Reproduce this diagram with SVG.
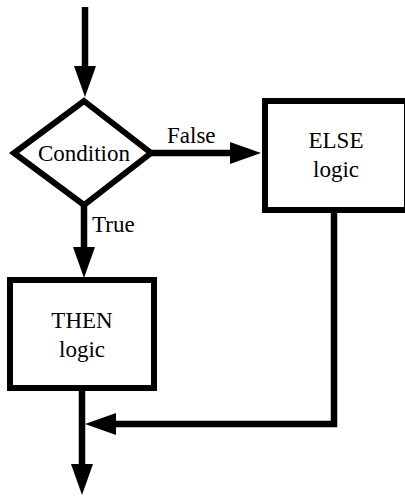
<svg xmlns="http://www.w3.org/2000/svg" width="405" height="497" viewBox="0 0 405 497">
  <style>
    .shape { fill: #fff; stroke: #000; stroke-width: 6; stroke-linejoin: miter; }
    .conn { fill: none; stroke: #000; stroke-width: 6.5; }
    text { font-family: "Liberation Serif", "Times New Roman", serif; font-size: 23px; fill: #000; }
    .mid { text-anchor: middle; }
  </style>
  <defs>
    <marker id="arrow" markerUnits="userSpaceOnUse" markerWidth="32" markerHeight="24" refX="0" refY="11" orient="auto" overflow="visible">
      <path d="M0,0 L31,11 L0,22 Z" fill="#000"/>
    </marker>
  </defs>
  <rect width="405" height="497" fill="#fff"/>
  <g id="connectors">
    <line class="conn" x1="85" y1="7" x2="85" y2="66" marker-end="url(#arrow)"/>
    <line class="conn" x1="151" y1="153" x2="230" y2="153" marker-end="url(#arrow)"/>
    <line class="conn" x1="84" y1="205" x2="84" y2="247" marker-end="url(#arrow)"/>
    <line class="conn" x1="82" y1="389" x2="82" y2="464" marker-end="url(#arrow)"/>
    <polyline class="conn" points="334,212 334,424 116,424" marker-end="url(#arrow)"/>
  </g>
  <g id="condition">
    <polygon class="shape" points="84,101 151,153 84,205 14,153"/>
    <text class="mid" x="84" y="161">Condition</text>
  </g>
  <g id="else">
    <rect class="shape" x="265" y="101" width="142" height="109"/>
    <text class="mid" x="336" y="148">ELSE</text>
    <text class="mid" x="336" y="177">logic</text>
  </g>
  <g id="then">
    <rect class="shape" x="10" y="280" width="144" height="108"/>
    <text class="mid" x="82" y="328">THEN</text>
    <text class="mid" x="82" y="357">logic</text>
  </g>
  <g id="labels">
    <text x="167" y="143">False</text>
    <text x="92" y="232">True</text>
  </g>
</svg>
